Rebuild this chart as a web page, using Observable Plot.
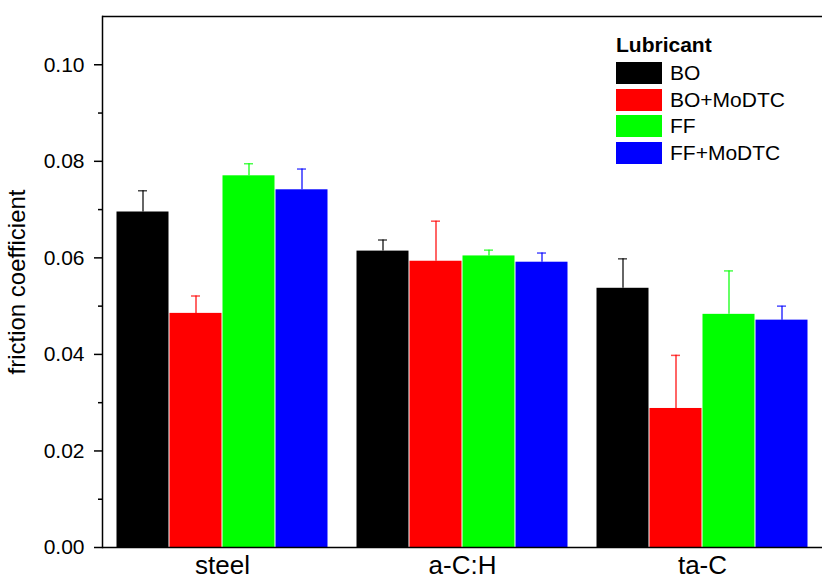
<!DOCTYPE html>
<html>
<head>
<meta charset="utf-8">
<script src="https://cdn.jsdelivr.net/npm/d3@7"></script>
<script src="https://cdn.jsdelivr.net/npm/@observablehq/plot@0.6"></script>
<style>
  html, body { margin: 0; background: #fff; font-family: "Liberation Sans", Arial, sans-serif; overflow: hidden; }
  #wrap { position: relative; width: 823px; height: 583px; overflow: hidden; }
  #mask { position: absolute; left: 818px; top: 18px; width: 5px; height: 527px; background: #fff; }
  #legend { position: absolute; left: 616px; top: 34px; color: #000; }
  #legend .title { font-weight: bold; font-size: 21px; line-height: 21px; margin-bottom: 7px; }
  #legend .row { display: flex; align-items: center; height: 22px; margin-bottom: 4.6px; }
  #legend .sw { width: 46px; height: 22px; }
  #legend .lab { margin-left: 8px; font-size: 21px; line-height: 22px; }
</style>
</head>
<body>
<div id="wrap"><div id="chart"></div><div id="mask"></div><div id="legend"></div></div>
<script>
// categories
const substrates = ["steel", "a-C:H", "ta-C"];
const lubricants = ["BO", "BO+MoDTC", "FF", "FF+MoDTC"];
const colors = ["#000000", "#ff0000", "#00ff00", "#0000ff"];

// mean friction coefficient per lubricant (steel, a-C:H, ta-C)
const BO        = [0.0695, 0.0614, 0.0537];
const BO_MoDTC  = [0.0485, 0.0593, 0.0288];
const FF        = [0.0770, 0.0604, 0.0483];
const FF_MoDTC  = [0.0741, 0.0591, 0.0471];

// error (upper) per lubricant
const BO_err       = [0.0044, 0.0023, 0.0061];
const BO_MoDTC_err = [0.0036, 0.0083, 0.0110];
const FF_err       = [0.0025, 0.0012, 0.0090];
const FF_MoDTC_err = [0.0043, 0.0019, 0.0029];

// axis ticks
const yMajor = [0.00, 0.02, 0.04, 0.06, 0.08, 0.10];
const yMinor = [0.01, 0.03, 0.05, 0.07, 0.09];
const yMax = 0.11;

const means = [BO, BO_MoDTC, FF, FF_MoDTC];
const errs = [BO_err, BO_MoDTC_err, FF_err, FF_MoDTC_err];
const data = [];
substrates.forEach((s, si) => {
  lubricants.forEach((l, li) => {
    data.push({substrate: s, lubricant: l, value: means[li][si], upper: means[li][si] + errs[li][si]});
  });
});

const chart = Plot.plot({
  width: 823,
  height: 583,
  marginLeft: 101,
  marginRight: 0,
  marginTop: 16,
  marginBottom: 36,
  style: {fontFamily: "'Liberation Sans', Arial, sans-serif", color: "#000", background: "#fff"},
  fx: {domain: substrates, padding: 0, label: null},
  x: {domain: lubricants, paddingInner: 0, paddingOuter: 0.26, axis: null},
  y: {domain: [0, yMax], axis: null},
  color: {domain: lubricants, range: colors},
  marks: [
    Plot.barY(data, {fx: "substrate", x: "lubricant", y: "value", fill: "lubricant", insetLeft: 0.5, insetRight: 0.5}),
    Plot.ruleX(data, {fx: "substrate", x: "lubricant", y1: "value", y2: "upper", stroke: "lubricant", strokeWidth: 1.5, strokeOpacity: 0.8}),
    Plot.tickY(data, {fx: "substrate", x: "lubricant", y: "upper", stroke: "lubricant", strokeWidth: 1.5, strokeOpacity: 0.7, insetLeft: 22, insetRight: 22}),
    Plot.ruleY([0, yMax], {stroke: "#000", strokeWidth: 1.5}),
    Plot.frame({anchor: "left", facet: "super", stroke: "#000", strokeWidth: 1.5}),
    Plot.axisY({ticks: yMajor, tickFormat: d3.format(".2f"), tickSize: 8, tickPadding: 10, fontSize: 21, label: null, strokeWidth: 1.5}),
    Plot.axisY({ticks: yMinor, tickFormat: () => "", tickSize: 4, label: null, strokeWidth: 1.5}),
    Plot.axisY({ticks: [], label: "friction coefficient", labelAnchor: "center", labelOffset: 95, labelArrow: "none", fontSize: 24}),
    Plot.axisFx({anchor: "bottom", tickSize: 0, tickPadding: 8, fontSize: 26, label: null})
  ]
});
document.getElementById("chart").appendChild(chart);

// legend
const legend = document.getElementById("legend");
const t = document.createElement("div");
t.className = "title";
t.textContent = "Lubricant";
legend.appendChild(t);
lubricants.forEach((l, i) => {
  const row = document.createElement("div");
  row.className = "row";
  const sw = document.createElement("div");
  sw.className = "sw";
  sw.style.background = colors[i];
  const lab = document.createElement("span");
  lab.className = "lab";
  lab.textContent = l;
  row.appendChild(sw);
  row.appendChild(lab);
  legend.appendChild(row);
});
</script>
</body>
</html>
